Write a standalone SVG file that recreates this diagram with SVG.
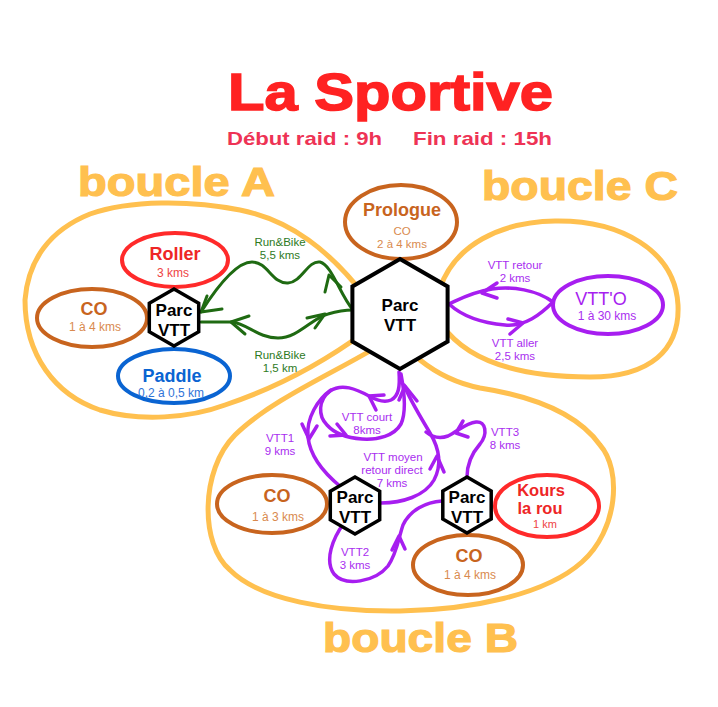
<svg xmlns="http://www.w3.org/2000/svg" width="718" height="707" viewBox="0 0 718 707">
<style>
text{font-family:"Liberation Sans",Arial,sans-serif;text-anchor:middle}
.loop{fill:none;stroke:#ffc04f;stroke-width:5;stroke-linecap:round}
.lbl{font-weight:bold;font-size:41px;fill:#ffc04f;stroke:#ffc04f;stroke-width:1.2;text-anchor:start}
.hex{fill:#fff;stroke:#000;stroke-width:4;stroke-linejoin:miter}
.hs{stroke-width:3.5}
.ht{font-weight:bold;font-size:17px;fill:#000}
.ell{fill:#fff;stroke-width:4}
.g{fill:none;stroke:#1f6a12;stroke-width:3;stroke-linecap:round;stroke-linejoin:round}
.p{fill:none;stroke:#a71ef0;stroke-width:3.5;stroke-linecap:round;stroke-linejoin:round}
.gt{font-size:11.5px;fill:#2e7a1e}
.pt{font-size:11.5px;fill:#a92ef0}
.big{font-weight:bold;font-size:18px}
.sm{font-size:12px;font-weight:normal}
.brown{stroke:#c8641e}
.red{stroke:#ff2a2a}
.blue{stroke:#0a64d2}
.purple{stroke:#a71ef0}
</style>
<rect width="718" height="707" fill="#fff"/>

<g id="title">
<text x="228" y="110" font-size="52" font-weight="bold" fill="#ff2222" stroke="#ff2222" stroke-width="1.5" textLength="325" lengthAdjust="spacingAndGlyphs" style="text-anchor:start">La Sportive</text>
<text x="227" y="145" font-size="19" font-weight="bold" fill="#ee3355" textLength="155" lengthAdjust="spacingAndGlyphs" style="text-anchor:start">Début raid : 9h</text>
<text x="413" y="145" font-size="19" font-weight="bold" fill="#ee3355" textLength="139" lengthAdjust="spacingAndGlyphs" style="text-anchor:start">Fin raid : 15h</text>
</g>

<g id="boucles">
<path class="loop" d="M368,300 C330,250 290,220 240,210 C190,200 130,200 90,214 C50,230 28,260 25,300 C25,355 55,395 100,410 C140,422 190,418 225,405 C270,390 320,365 365,332"/>
<path class="loop" d="M380,345 C340,370 270,400 235,435 C200,470 200,545 230,570 C260,600 330,612 400,611 C470,610 545,595 582,562 C618,530 622,470 600,445 C575,410 525,395 480,388 C455,383 435,372 420,360"/>
<path class="loop" d="M440,288 C455,245 500,222 555,221 C620,220 675,250 678,305 C680,350 650,377 590,377 C530,377 470,365 442,325"/>
<text class="lbl" x="78" y="196" textLength="197" lengthAdjust="spacingAndGlyphs">boucle A</text>
<text class="lbl" x="482" y="200" textLength="196" lengthAdjust="spacingAndGlyphs">boucle C</text>
<text class="lbl" x="323" y="652" textLength="195" lengthAdjust="spacingAndGlyphs">boucle B</text>
</g>

<g id="connectors">
<path class="g" d="M201,312 C215,290 235,262 252,262 C268,262 272,284 288,283 C302,282 308,260 320,262 C332,265 340,295 353,310"/>
<polyline class="g" points="207,296 201,312 222,309"/>
<polyline class="g" points="325,292 329,275 341,287"/>
<path class="g" d="M201,322 L232,322 C248,324 258,338 278,338 C298,338 312,318 328,314 C338,311 346,310 353,310"/>
<polyline class="g" points="249,316 231,322 245,334"/>
<polyline class="g" points="307,318 325,314 315,328"/>
<text class="gt"><tspan x="280" y="246">Run&amp;Bike</tspan><tspan x="280" y="259">5,5 kms</tspan></text>
<text class="gt"><tspan x="280" y="359">Run&amp;Bike</tspan><tspan x="280" y="372">1,5 km</tspan></text>

<path class="p" d="M553,302 C537,290 512,286 492,289 C472,292 460,299 449,304"/>
<polyline class="p" points="497,283 482,293 497,298"/>
<path class="p" d="M449,304 C462,316 482,323 505,325 C525,327 541,314 553,302"/>
<polyline class="p" points="508,319 523,323 510,334"/>
<text class="pt"><tspan x="515" y="269">VTT retour</tspan><tspan x="515" y="282">2 kms</tspan></text>
<text class="pt"><tspan x="515" y="347">VTT aller</tspan><tspan x="515" y="360">2,5 kms</tspan></text>

<path class="p" d="M399,372 C400,386 399,396 391,400 C384,403 376,400 369,396 C356,389 342,383 330,391 C318,400 318,416 327,425 C335,434 347,438 362,439 C378,440 394,436 401,424 C406,413 405,395 401,374"/>
<polyline class="p" points="384,395 369,396 376,410"/>
<polyline class="p" points="330,436 346,435 337,424"/>
<polyline class="p" points="399,400 405,386 417,401"/>
<path class="p" d="M331,390 C318,399 306,418 308,437 C310,456 325,474 341,487"/>
<polyline class="p" points="302,424 309,439 317,426"/>
<path class="p" d="M381,503 C402,503 425,496 434,480 C442,465 439,448 430,433 C420,416 410,400 404,385"/>
<polyline class="p" points="430,469 437,456 444,472"/>
<path class="p" d="M467,477 C467,463 473,452 480,444 C488,434 486,421 476,422 C466,423 458,431 448,436 C440,439 432,437 426,432"/>
<polyline class="p" points="463,421 456,433 468,437"/>
<path class="p" d="M344,523 C333,538 324,560 334,574 C345,587 375,582 388,566 C397,553 398,540 403,525 C410,510 426,502 442,501"/>
<polyline class="p" points="392,550 399,536 405,549"/>
<text class="pt"><tspan x="367" y="421">VTT court</tspan><tspan x="367" y="434">8kms</tspan></text>
<text class="pt"><tspan x="280" y="442">VTT1</tspan><tspan x="280" y="455">9 kms</tspan></text>
<text class="pt"><tspan x="393" y="461">VTT moyen</tspan><tspan x="392" y="474">retour direct</tspan><tspan x="392" y="487">7 kms</tspan></text>
<text class="pt"><tspan x="355" y="556">VTT2</tspan><tspan x="355" y="569">3 kms</tspan></text>
<text class="pt"><tspan x="505" y="436">VTT3</tspan><tspan x="505" y="449">8 kms</tspan></text>
</g>

<g id="roller">
<ellipse class="ell red" cx="175" cy="260" rx="53" ry="27"/>
<text class="big" fill="#ee2626"><tspan x="175" y="260">Roller</tspan><tspan class="sm" x="173" y="277" fill="#ee4444">3 kms</tspan></text>
</g>
<g id="co-a">
<ellipse class="ell brown" cx="92" cy="318" rx="55" ry="29"/>
<text class="big" fill="#c8641e"><tspan x="94" y="315">CO</tspan><tspan class="sm" x="95" y="331" fill="#d98a4e">1 à 4 kms</tspan></text>
</g>
<g id="paddle">
<ellipse class="ell blue" cx="174" cy="376" rx="56" ry="27"/>
<text class="big" fill="#0a64d2"><tspan x="172" y="382">Paddle</tspan><tspan class="sm" x="171" y="397" fill="#2f74d8">0,2 à 0,5 km</tspan></text>
</g>
<g id="prologue">
<ellipse class="ell brown" cx="401" cy="222" rx="56" ry="37"/>
<text class="big" fill="#c8641e"><tspan x="402" y="216">Prologue</tspan><tspan class="sm" x="402" y="235" fill="#d98a4e" style="font-size:11.5px">CO</tspan><tspan class="sm" x="402" y="248" fill="#d98a4e" style="font-size:11.5px">2 à 4 kms</tspan></text>
</g>
<g id="vtto">
<ellipse class="ell purple" cx="608" cy="305" rx="55" ry="29"/>
<text font-size="18" fill="#a71ef0"><tspan x="601" y="305">VTT'O</tspan><tspan class="sm" x="607" y="320" fill="#a92ef0">1 à 30 kms</tspan></text>
</g>
<g id="co-b1">
<ellipse class="ell brown" cx="272" cy="504" rx="55" ry="29"/>
<text class="big" fill="#c8641e"><tspan x="277" y="502">CO</tspan><tspan class="sm" x="278" y="521" fill="#d98a4e">1 à 3 kms</tspan></text>
</g>
<g id="kours">
<ellipse class="ell red" cx="547" cy="506" rx="52" ry="31"/>
<text class="big" fill="#ee2626" style="font-size:16.5px"><tspan x="541" y="496">Kours</tspan><tspan x="540" y="514">la rou</tspan><tspan class="sm" x="545" y="528" fill="#ee4444" style="font-size:11px">1 km</tspan></text>
</g>
<g id="co-b2">
<ellipse class="ell brown" cx="468" cy="565" rx="55" ry="30"/>
<text class="big" fill="#c8641e"><tspan x="469" y="562">CO</tspan><tspan class="sm" x="470" y="579" fill="#d98a4e">1 à 4 kms</tspan></text>
</g>

<g id="parc-center">
<polygon class="hex" points="400,259 447.6,286.5 447.6,341.5 400,369 352.4,341.5 352.4,286.5"/>
<text class="ht"><tspan x="400" y="311">Parc</tspan><tspan x="400" y="330.5">VTT</tspan></text>
</g>
<g id="parc-a">
<polygon class="hex hs" points="174,289 198.7,303.2 198.7,331.8 174,346 149.3,331.8 149.3,303.2"/>
<text class="ht"><tspan x="174" y="316">Parc</tspan><tspan x="174" y="335.5">VTT</tspan></text>
</g>
<g id="parc-b1">
<polygon class="hex hs" points="355,477 379.7,491.2 379.7,519.8 355,534 330.3,519.8 330.3,491.2"/>
<text class="ht"><tspan x="355" y="503">Parc</tspan><tspan x="355" y="522.5">VTT</tspan></text>
</g>
<g id="parc-b2">
<polygon class="hex hs" points="467,477 491.2,491 491.2,519 467,533 442.8,519 442.8,491"/>
<text class="ht"><tspan x="467" y="503">Parc</tspan><tspan x="467" y="522.5">VTT</tspan></text>
</g>
</svg>
